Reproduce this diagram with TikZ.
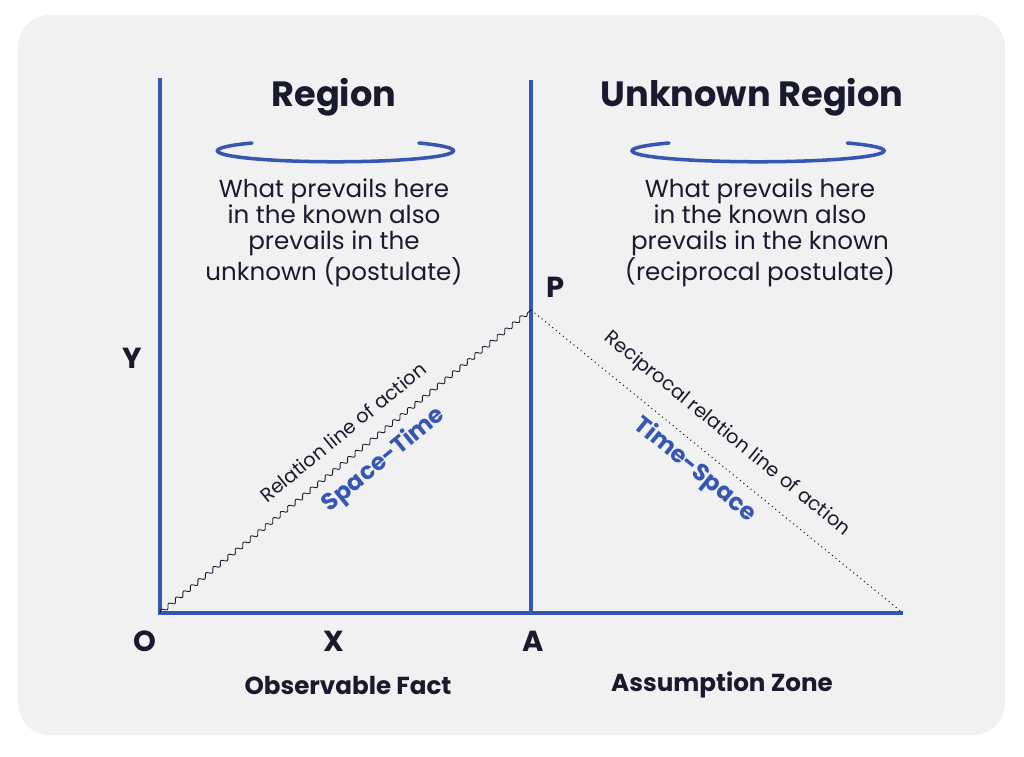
\documentclass[tikz,border=0pt]{standalone}
\usepackage{fontspec}
\setmainfont{Poppins}
\usetikzlibrary{decorations.pathmorphing}
\definecolor{axisblue}{HTML}{3557B3}
\definecolor{panel}{HTML}{F1F1F1}
\definecolor{ink}{HTML}{1A1A2E}
\begin{document}
\begin{tikzpicture}[x=0.02cm, y=-0.02cm,
  axis/.style={line width=2.2pt, color=axisblue},
  head/.style={font=\fontsize{20}{22}\selectfont\bfseries, text=ink},
  body/.style={font=\fontsize{14}{14.7}\selectfont, text=ink, align=center},
  pt/.style={font=\fontsize{16.5}{18}\selectfont\bfseries, text=ink},
  zone/.style={font=\fontsize{14}{16}\selectfont\bfseries, text=ink},
  slant/.style={font=\fontsize{11}{12}\selectfont, text=ink, inner sep=0pt},
  blue label/.style={font=\fontsize{13.5}{15}\selectfont\bfseries, text=axisblue, inner sep=0pt}]
\useasboundingbox (0,0) rectangle (1024,757);
\fill[panel, rounded corners=18pt] (18,15) rectangle (1005,735);
% points
\coordinate (o) at (160,613);
\coordinate (a) at (531,613);
\coordinate (p) at (531,310);
\coordinate (e) at (903,613);
\coordinate (ytop) at (160,78);
\coordinate (atop) at (531,80);
% axes
\draw[axis] (ytop)--(o)--(e);
\draw[axis] (atop)--(a);
% lines of action
\draw[ink, line width=0.5pt, decorate, decoration={snake, amplitude=1.2pt, segment length=5.5pt}] (o)--(p);
\draw[ink, line width=0.6pt, dotted] (p)--(e);
% headings with curls
\node[head] (region) at (334,97) {Region};
\node[head] (unknown) at (752,97) {Unknown Region};
\draw[axis, line width=2pt, line cap=round] (252,143) arc[start angle=225, end angle=-45, x radius=118, y radius=11];
\draw[axis, line width=2pt, line cap=round] (669,143) arc[start angle=225, end angle=-45, x radius=126, y radius=11];
% texts
\node[body] (left text) at (334,233) {What prevails here\\in the known also\\prevails in the\\unknown (postulate)};
\node[body] (right text) at (760,233) {What prevails here\\in the known also\\prevails in the known\\(reciprocal postulate)};
\node[pt] (p label) at (556,287) {P};
\node[pt] (y label) at (132,358) {Y};
\node[pt] (o label) at (145,641) {O};
\node[pt] (x label) at (334,641) {X};
\node[pt] (a label) at (533,641) {A};
\node[zone] (fact) at (348,685) {Observable Fact};
\node[zone] (zone) at (722,685) {Assumption Zone};
\node[slant, rotate=39.2] (rel) at (343,432) {Relation line of action};
\node[blue label, rotate=39.2] (st) at (384,460) {Space-Time};
\node[slant, rotate=-39.2] (rrel) at (727,434) {Reciprocal relation line of action};
\node[blue label, rotate=-39.2] (ts) at (695,470) {Time-Space};
\end{tikzpicture}
\end{document}
